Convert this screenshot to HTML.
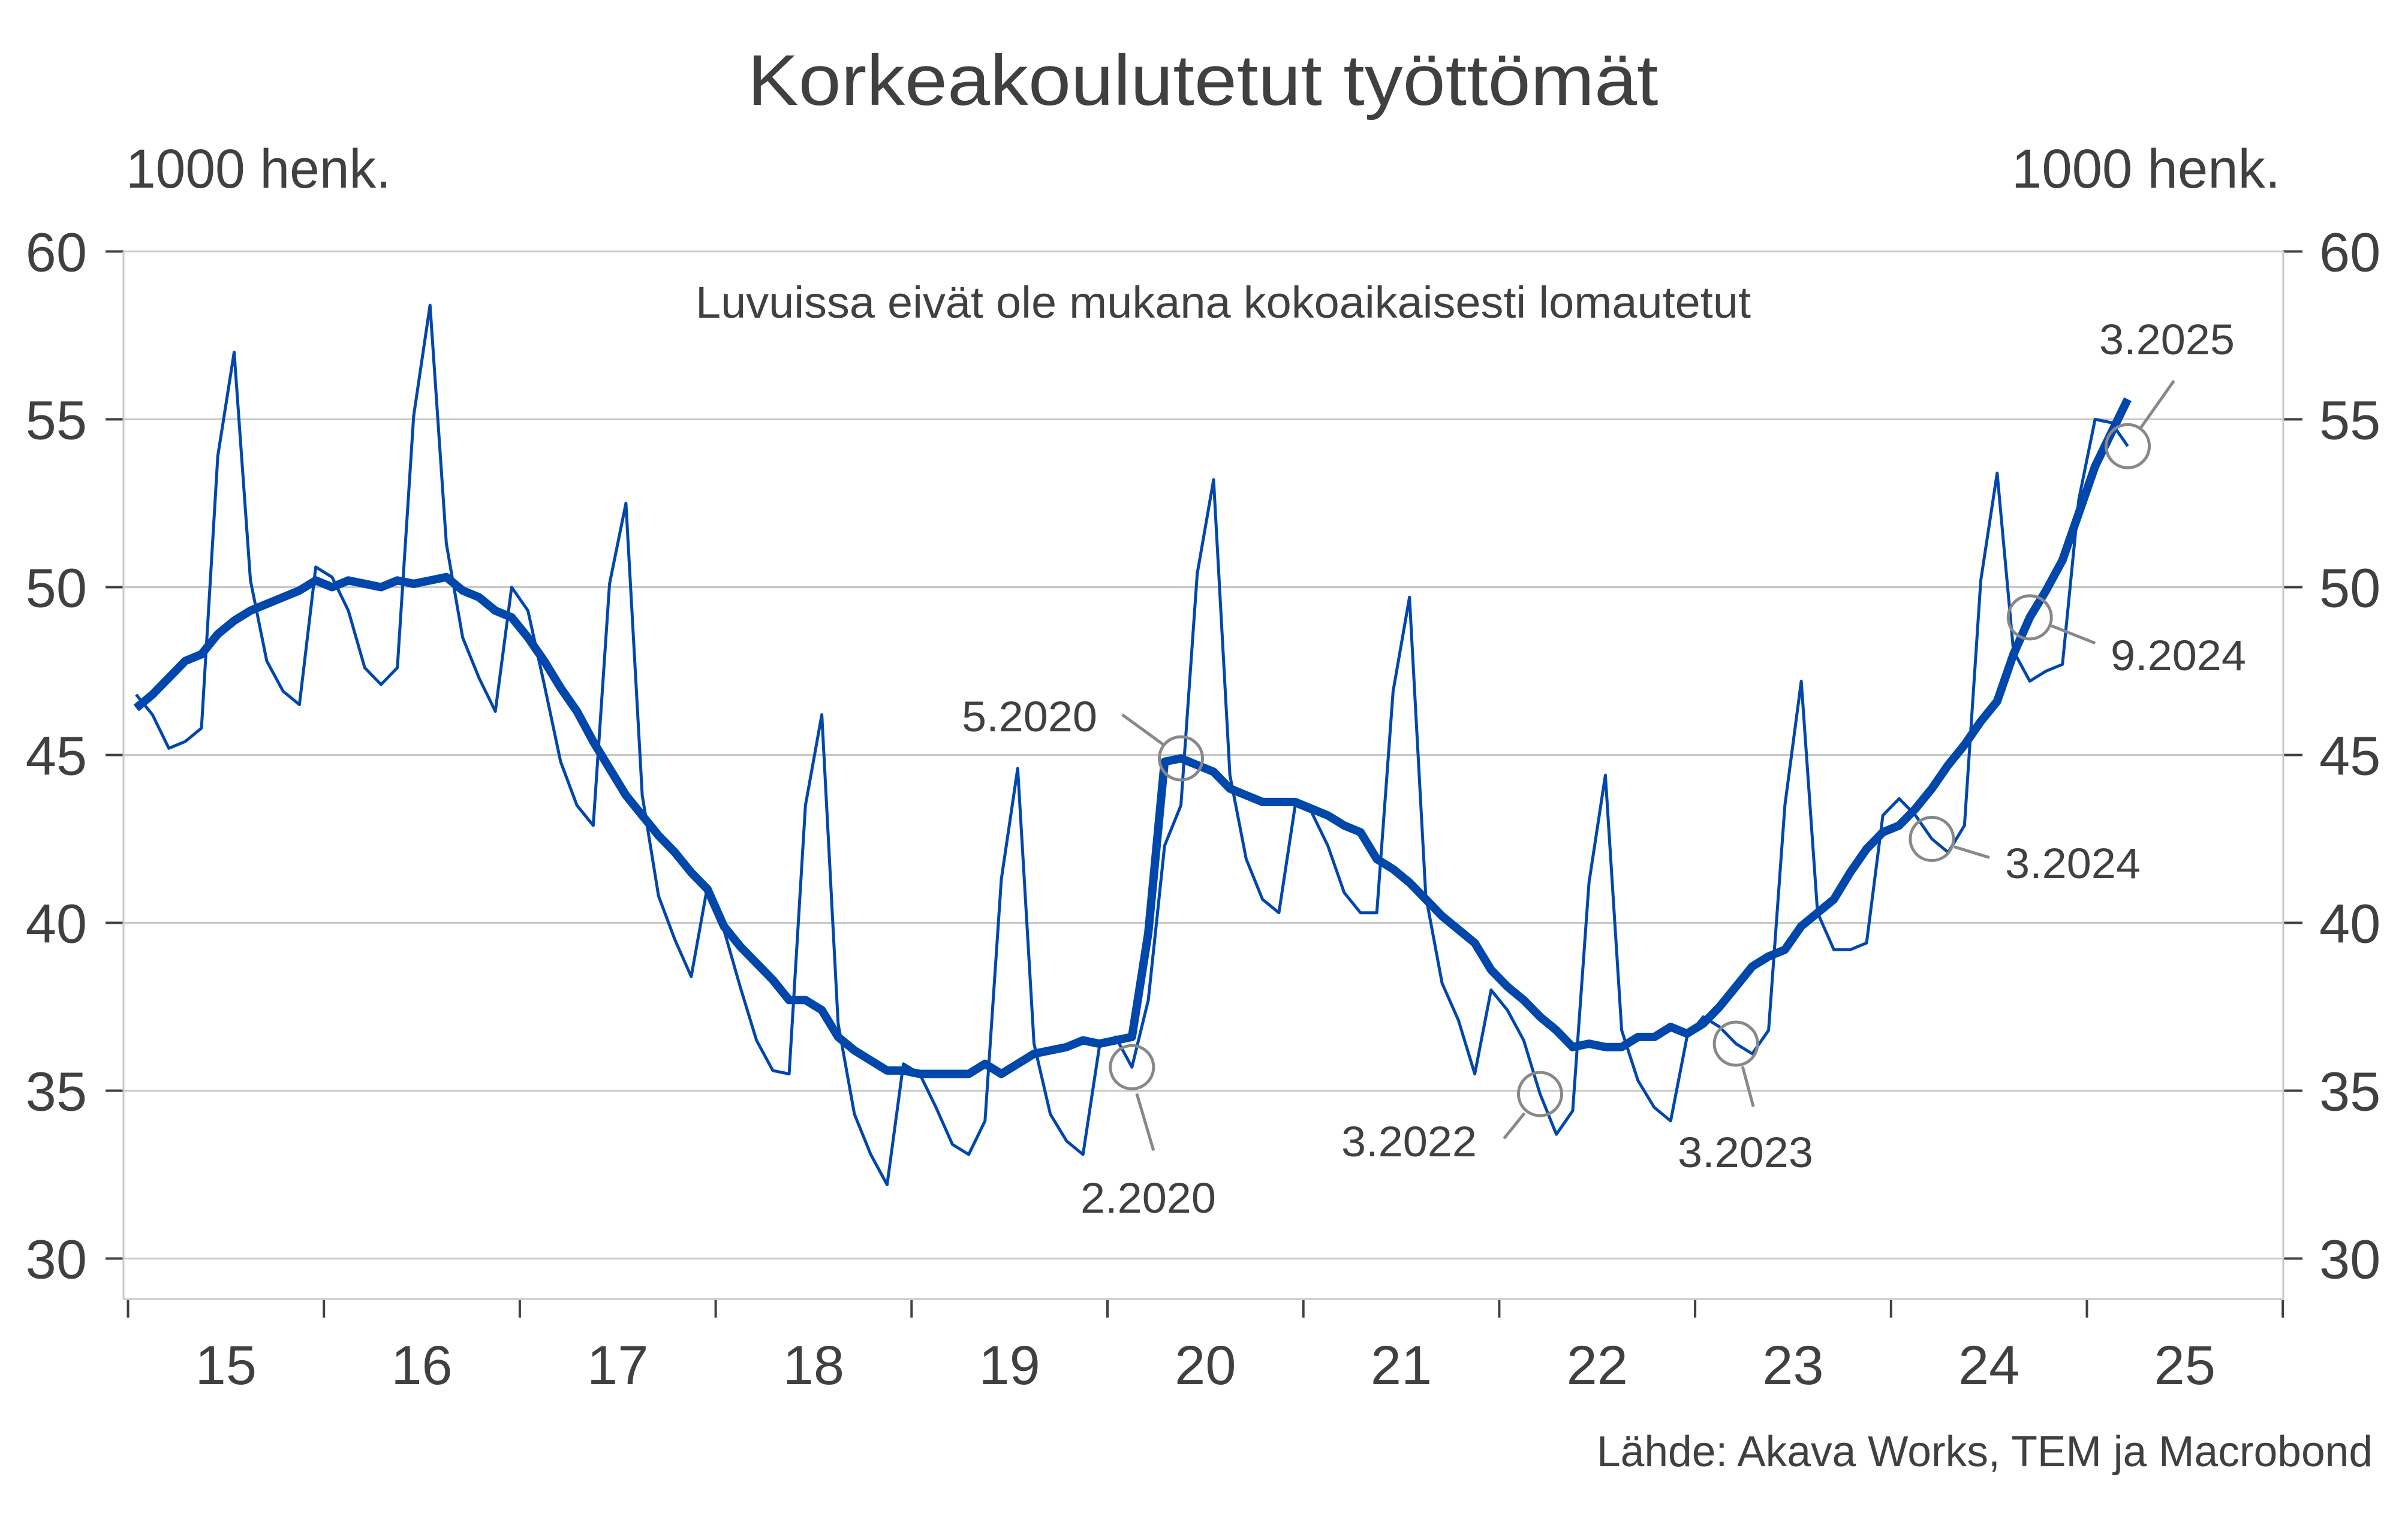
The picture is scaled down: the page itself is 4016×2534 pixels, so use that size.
<!DOCTYPE html>
<html>
<head>
<meta charset="utf-8">
<style>
  html,body{margin:0;padding:0;background:#fff;}
  svg{display:block;}
  text{font-family:"Liberation Sans","DejaVu Sans",sans-serif;fill:#404040;}
</style>
</head>
<body>
<svg id="chart" width="4016" height="2534" viewBox="0 0 4016 2534" xmlns="http://www.w3.org/2000/svg">
  <rect x="0" y="0" width="4016" height="2534" fill="#ffffff"/>
  <text x="2006" y="175" font-size="120" text-anchor="middle" textLength="1519" lengthAdjust="spacingAndGlyphs">Korkeakoulutetut työttömät</text>
  <text x="210" y="313" font-size="92" textLength="442" lengthAdjust="spacingAndGlyphs">1000 henk.</text>
  <text x="3355" y="313" font-size="92" textLength="448" lengthAdjust="spacingAndGlyphs">1000 henk.</text>
  <text x="1160" y="530" font-size="74" textLength="1760" lengthAdjust="spacingAndGlyphs">Luvuissa eivät ole mukana kokoaikaisesti lomautetut</text>
  <text x="3957" y="2446" font-size="72" text-anchor="end" textLength="1294" lengthAdjust="spacingAndGlyphs">Lähde: Akava Works, TEM ja Macrobond</text>
  <g id="grid"></g>
  <g id="axes"></g>
  <g id="series"></g>
  <g id="annotations"></g>
</svg>
<script>
const yTicks = [30, 35, 40, 45, 50, 55, 60];
const yearLabels = ["15","16","17","18","19","20","21","22","23","24","25"];
const rawValues = [
  46.8,46.2,45.2,45.4,45.8,53.9,57.0,50.2,47.8,46.9,46.5,50.6,
  50.3,49.3,47.6,47.1,47.6,55.1,58.4,51.3,48.5,47.3,46.3,50.0,
  49.3,47.1,44.8,43.5,42.9,50.1,52.5,43.8,40.8,39.5,38.4,41.1,
  39.8,38.1,36.5,35.6,35.5,43.5,46.2,37.0,34.3,33.1,32.2,35.8,
  35.5,34.5,33.4,33.1,34.1,41.3,44.6,36.4,34.3,33.5,33.1,36.3,
  36.6,35.7,37.7,42.3,43.5,50.4,53.2,44.4,41.9,40.7,40.3,43.5,
  43.3,42.3,40.9,40.3,40.3,46.9,49.7,40.8,38.2,37.1,35.5,38.0,
  37.4,36.5,34.9,33.7,34.4,41.2,44.4,36.8,35.3,34.5,34.1,36.6,
  37.2,36.9,36.4,36.1,36.8,43.5,47.2,40.3,39.2,39.2,39.4,43.2,
  43.7,43.2,42.5,42.1,42.9,50.2,53.4,48.1,47.2,47.5,47.7,52.6,
  55.0,54.9,54.2
];
const trendValues = [
  46.4,46.8,47.3,47.8,48.0,48.6,49.0,49.3,49.5,49.7,49.9,50.2,
  50.0,50.2,50.1,50.0,50.2,50.1,50.2,50.3,49.9,49.7,49.3,49.1,
  48.5,47.8,47.0,46.3,45.4,44.6,43.8,43.2,42.6,42.1,41.5,41.0,
  39.9,39.3,38.8,38.3,37.7,37.7,37.4,36.6,36.2,35.9,35.6,35.6,
  35.5,35.5,35.5,35.5,35.8,35.5,35.8,36.1,36.2,36.3,36.5,36.4,
  36.5,36.6,39.7,44.8,44.9,44.7,44.5,44.0,43.8,43.6,43.6,43.6,
  43.4,43.2,42.9,42.7,41.9,41.6,41.2,40.7,40.2,39.8,39.4,38.6,
  38.1,37.7,37.2,36.8,36.3,36.4,36.3,36.3,36.6,36.6,36.9,36.7,
  37.0,37.5,38.1,38.7,39.0,39.2,39.9,40.3,40.7,41.5,42.2,42.7,
  42.9,43.4,44.0,44.7,45.3,46.0,46.6,48.0,49.1,49.9,50.8,52.2,
  53.6,54.6,55.6
];
// annotation labels and the month index (0 = 1/2015) each points at
const annotationLabels = ["2.2020","5.2020","3.2022","3.2023","3.2024","9.2024","3.2025"];
const annotationMonths = [61, 64, 86, 98, 110, 116, 122];
const annotationSeries = ["raw","trend","raw","raw","raw","trend","raw"];

const NS = "http://www.w3.org/2000/svg";
const X0 = 213.5, YEARW = 326.7, LEFT = 206, RIGHT = 3808;
function xMonth(i){ return X0 + (i + 0.5) * YEARW / 12; }
function xYear(k){ return X0 + k * YEARW; }
function yVal(v){ return 419.5 + (60 - v) * 56.0; }
function mk(tag, attrs, parent){
  const e = document.createElementNS(NS, tag);
  for (const k in attrs) e.setAttribute(k, attrs[k]);
  parent.appendChild(e);
  return e;
}
const grid = document.getElementById('grid');
const axes = document.getElementById('axes');
const series = document.getElementById('series');
const ann = document.getElementById('annotations');

yTicks.forEach(v => {
  const y = yVal(v);
  const g = mk('line', {x1: LEFT, x2: RIGHT, y1: y, y2: y, stroke: '#c8c8c8', 'stroke-width': 3}, grid);
  
  
  const tl = mk('line', {x1: 176, x2: LEFT, y1: y, y2: y, stroke: '#404040', 'stroke-width': 4}, axes);
  
  
  const tr = mk('line', {x1: RIGHT, x2: 3840, y1: y, y2: y, stroke: '#404040', 'stroke-width': 4}, axes);
  
  
  const l = mk('text', {x: 145, y: y + 33, 'font-size': 92, 'text-anchor': 'end'}, axes);
  l.textContent = v;
  
  
  const r = mk('text', {x: 3868, y: y + 33, 'font-size': 92}, axes);
  r.textContent = v;
  
  
});
const la = mk('line', {x1: LEFT, x2: LEFT, y1: 419, y2: 2168, stroke: '#c8c8c8', 'stroke-width': 3}, axes);


const ra = mk('line', {x1: RIGHT, x2: RIGHT, y1: 419, y2: 2168, stroke: '#c8c8c8', 'stroke-width': 3}, axes);


const ba = mk('line', {x1: LEFT, x2: RIGHT, y1: 2167, y2: 2167, stroke: '#c8c8c8', 'stroke-width': 3}, axes);


for (let k = 0; k <= yearLabels.length; k++) {
  const x = xYear(k);
  const t = mk('line', {x1: x, x2: x, y1: 2169, y2: 2198, stroke: '#404040', 'stroke-width': 4}, axes);
  
  
}
yearLabels.forEach((lab, k) => {
  const t = mk('text', {x: xYear(k) + YEARW / 2, y: 2309, 'font-size': 92, 'text-anchor': 'middle'}, axes);
  t.textContent = lab;
  
  
});

function pathOf(vals){ return vals.map((v, i) => (i ? 'L' : 'M') + xMonth(i).toFixed(1) + ',' + yVal(v).toFixed(1)).join(' '); }
const rawPath = mk('path', {d: pathOf(rawValues), fill: 'none', stroke: '#0047ab', 'stroke-width': 5, 'stroke-linejoin': 'round'}, series);


const trendPath = mk('path', {d: pathOf(trendValues), fill: 'none', stroke: '#0047ab', 'stroke-width': 14, 'stroke-linejoin': 'round'}, series);



// label placement relative to circle: [lineStartDx, lineStartDy, lineEndDx, lineEndDy, textX, textY, anchor]
const annLayout = [
  [8, 44, 36, 139, 1915, 2023, 'middle'],
  [-28, -22, -98, -73, 1830, 1220, 'end'],
  [-26, 32, -60, 74, 2463, 1929, 'end'],
  [11, 38, 29, 105, 2911, 1947, 'middle'],
  [37, 13, 96, 31, 3344, 1465, 'start'],
  [36, 14, 109, 43, 3520, 1118, 'start'],
  [22, -31, 77, -109, 3614, 591, 'middle']
];
annotationLabels.forEach((lab, k) => {
  const i = annotationMonths[k];
  const v = annotationSeries[k] === 'raw' ? rawValues[i] : trendValues[i];
  const cx = xMonth(i), cy = yVal(v);
  const L = annLayout[k];
  const c = mk('circle', {cx: cx, cy: cy, r: 36, fill: 'none', stroke: '#888888', 'stroke-width': 5}, ann);
  
  
  const ln = mk('line', {x1: cx + L[0], y1: cy + L[1], x2: cx + L[2], y2: cy + L[3], stroke: '#888888', 'stroke-width': 5}, ann);
  
  
  const t = mk('text', {x: L[4], y: L[5], 'font-size': 71, 'text-anchor': L[6], textLength: 226, lengthAdjust: 'spacingAndGlyphs'}, ann);
  t.textContent = lab;
  
  
});
</script>
</body>
</html>
